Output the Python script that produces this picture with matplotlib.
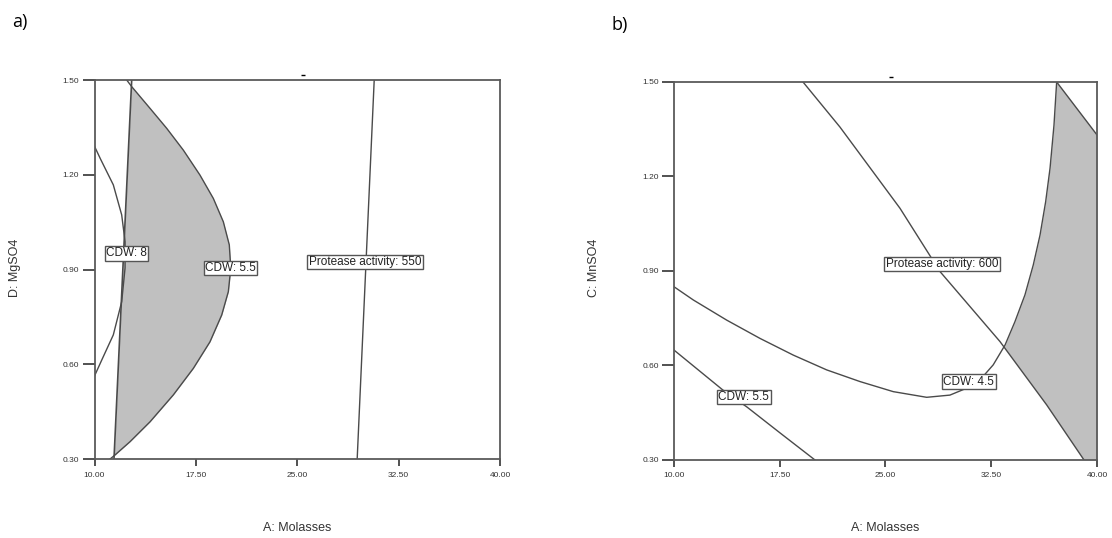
import numpy as np
import matplotlib.pyplot as plt

plt.rcParams["font.family"] = ["Liberation Sans", "DejaVu Sans"]

# 공통 축 눈금
x_ticks = [10.00, 17.50, 25.00, 32.50, 40.00]
y_ticks = [0.30, 0.60, 0.90, 1.20, 1.50]

# a) A: Molasses vs D: MgSO4
a_cdw55_x = [12.38, 12.75, 14.11, 15.34, 16.57, 17.80, 18.79, 19.53, 19.97, 20.08,
             19.90, 19.41, 18.54, 17.31, 15.83, 14.11, 12.63, 11.52, 11.15]
a_cdw55_y = [1.500, 1.479, 1.410, 1.347, 1.278, 1.199, 1.125, 1.051, 0.978, 0.904,
             0.830, 0.756, 0.671, 0.587, 0.503, 0.418, 0.355, 0.313, 0.300]
a_edge_x = [12.75, 11.44]
a_edge_y = [1.50, 0.30]
a_cdw8_x = [10.00, 10.44, 11.39, 12.01, 12.26, 12.26, 12.01, 11.39, 10.53, 10.00]
a_cdw8_y = [1.290, 1.250, 1.168, 1.073, 0.988, 0.905, 0.798, 0.693, 0.613, 0.563]
a_prot_x = [30.69, 29.43]
a_prot_y = [1.50, 0.30]
a_labels = ["CDW: 8", "CDW: 5.5", "Protease activity: 550"]
a_label_xy = [(12.36, 0.952), (20.05, 0.905), (30.02, 0.924)]

# b) A: Molasses vs C: MnSO4
b_prot_x = [19.15, 21.77, 26.03, 28.87, 33.12, 36.43, 39.08]
b_prot_y = [1.500, 1.357, 1.099, 0.898, 0.676, 0.475, 0.300]
b_cdw45_x = [10.00, 11.37, 13.74, 16.10, 18.46, 20.83, 23.19, 25.55, 27.92, 29.57,
             30.76, 31.70, 32.64, 33.48, 34.18, 34.89, 35.48, 35.96, 36.36, 36.67,
             36.95, 37.14]
b_cdw45_y = [0.850, 0.808, 0.744, 0.686, 0.633, 0.586, 0.549, 0.517, 0.499, 0.506,
             0.528, 0.554, 0.602, 0.665, 0.739, 0.824, 0.919, 1.014, 1.120, 1.226,
             1.363, 1.500]
b_top_x = [37.14, 40.00]
b_top_y = [1.500, 1.332]
b_cdw55_x = [10.00, 13.47, 15.18, 17.52, 20.00]
b_cdw55_y = [0.649, 0.522, 0.468, 0.386, 0.300]
b_labels = ["Protease activity: 600", "CDW: 4.5", "CDW: 5.5"]
b_label_xy = [(29.0, 0.922), (30.9, 0.548), (14.96, 0.500)]

line_c = "#4a4a4a"
spine_c = "#5a5a5a"
shade_c = "#c0c0c0"

fig = plt.figure(figsize=(11.12, 5.38), dpi=100)
ax_a = fig.add_axes([0.0850, 0.1468, 0.3647, 0.7045])
ax_b = fig.add_axes([0.6061, 0.1450, 0.3804, 0.7026])


def style_axes(ax):
    ax.set_xlim(10, 40)
    ax.set_ylim(0.3, 1.5)
    ax.set_xticks(x_ticks)
    ax.set_yticks(y_ticks)
    ax.set_xticklabels([f"{t:.2f}" for t in x_ticks])
    ax.set_yticklabels([f"{t:.2f}" for t in y_ticks])
    ax.tick_params(axis="x", direction="out", length=5, width=1.2, pad=4,
                   labelsize=6, colors="#333333")
    ax.tick_params(axis="y", direction="out", length=9, width=1.2, pad=2,
                   labelsize=6, colors="#333333")
    for s in ax.spines.values():
        s.set_color(spine_c)
        s.set_linewidth(1.3)
    ax.plot([0.513], [1.013], marker="_", ms=3, color="k",
            transform=ax.transAxes, clip_on=False)


def put_label(ax, text, xy):
    ax.text(xy[0], xy[1], text, fontsize=8.5, color="#222222",
            ha="center", va="center", zorder=5,
            bbox=dict(boxstyle="square,pad=0.12", fc="white", ec="#555555", lw=1))


# ---- a) ----
style_axes(ax_a)
yy = np.linspace(0.3, 1.5, 600)
xl = np.interp(yy, a_edge_y[::-1], a_edge_x[::-1])
xr = np.interp(yy, a_cdw55_y[::-1], a_cdw55_x[::-1])
ax_a.fill_betweenx(yy, xl, xr, where=xr > xl, color=shade_c, lw=0)
ax_a.plot(a_cdw55_x, a_cdw55_y, color=line_c, lw=1)
ax_a.plot(a_edge_x, a_edge_y, color=line_c, lw=1.2)
ax_a.plot(a_cdw8_x, a_cdw8_y, color=line_c, lw=1)
ax_a.plot(a_prot_x, a_prot_y, color=line_c, lw=1)
for t, xy in zip(a_labels, a_label_xy):
    put_label(ax_a, t, xy)

# ---- b) ----
style_axes(ax_b)
i_min = int(np.argmin(b_cdw45_y))
right_y = b_cdw45_y[i_min:]
right_x = b_cdw45_x[i_min:]
x_prot = np.interp(yy, b_prot_y[::-1], b_prot_x[::-1])
x_cdw = np.interp(yy, right_y, right_x, left=0)
x_left = np.maximum(x_prot, x_cdw)
x_right = np.where(yy > b_top_y[1], np.interp(yy, b_top_y[::-1], b_top_x[::-1]), 40)
ax_b.fill_betweenx(yy, x_left, x_right, where=x_right > x_left, color=shade_c, lw=0)
ax_b.plot(b_prot_x, b_prot_y, color=line_c, lw=1)
ax_b.plot(b_cdw45_x, b_cdw45_y, color=line_c, lw=1)
ax_b.plot(b_top_x, b_top_y, color=line_c, lw=1)
ax_b.plot(b_cdw55_x, b_cdw55_y, color=line_c, lw=1)
for t, xy in zip(b_labels, b_label_xy):
    put_label(ax_b, t, xy)

# 축 이름과 패널 표시
fig.text(297 / 1112, 1 - 528 / 538, "A: Molasses", fontsize=9, color="#333333",
         ha="center", va="center")
fig.text(885 / 1112, 1 - 528 / 538, "A: Molasses", fontsize=9, color="#333333",
         ha="center", va="center")
fig.text(15 / 1112, 1 - 268 / 538, "D: MgSO4", fontsize=9, color="#333333",
         ha="center", va="center", rotation=90)
fig.text(594 / 1112, 1 - 268 / 538, "C: MnSO4", fontsize=9, color="#333333",
         ha="center", va="center", rotation=90)
fig.text(20 / 1112, 1 - 22 / 538, "a)", fontsize=13, ha="center", va="center",
         family=["Open Sans", "DejaVu Sans"])
fig.text(620 / 1112, 1 - 25 / 538, "b)", fontsize=13, ha="center", va="center",
         family=["Open Sans", "DejaVu Sans"])

fig.savefig("out.png", dpi=100)
